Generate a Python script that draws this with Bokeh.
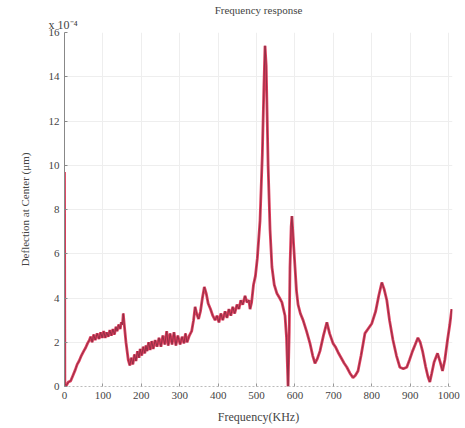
from bokeh.plotting import figure
from bokeh.models import FixedTicker, Range1d, Title
from bokeh.embed import file_html
from bokeh.resources import INLINE

freq = [0, 1, 5, 10, 16, 22, 28, 33, 38, 44,
        50, 55, 60, 65, 68, 72, 76, 80, 85, 90,
        94, 98, 102, 106, 110, 114, 118, 122, 126, 130,
        134, 137, 141, 145, 148, 151, 153, 155, 160, 166,
        170, 174, 178, 182, 186, 190, 194, 197, 201, 205,
        209, 212, 215, 219, 223, 227, 231, 236, 241, 246,
        251, 256, 261, 266, 270, 275, 280, 285, 290, 295,
        301, 306, 311, 315, 319, 325, 331, 336, 340, 344,
        349, 354, 359, 364, 369, 374, 380, 386, 392, 397,
        402, 407, 412, 418, 423, 428, 433, 438, 443, 449,
        454, 459, 464, 470, 475, 480, 483, 487, 492, 497,
        502, 509, 515, 519, 522, 525, 530, 535, 540, 546,
        553, 560, 566, 570, 574, 578, 582, 585, 587, 590,
        592, 595, 600, 604, 608, 614, 621, 630, 639, 646,
        652, 658, 665, 674, 683, 690, 699, 705, 712, 720,
        728, 735, 743, 751, 757, 764, 772, 782, 790, 800,
        810, 818, 826, 832, 839, 846, 855, 864, 873, 882,
        891, 898, 906, 913, 920, 926, 932, 940, 946, 951,
        956, 962, 971, 978, 984, 990, 997, 1003, 1008]

deflection = [9.7, 0.1, 0.05, 0.2, 0.25, 0.5, 0.75, 1.0, 1.15, 1.4,
              1.6, 1.75, 1.95, 2.1, 2.25, 2.0, 2.35, 2.1, 2.4, 2.15,
              2.45, 2.2, 2.5, 2.2, 2.45, 2.25, 2.55, 2.3, 2.6, 2.35,
              2.7, 2.5, 2.8, 2.6, 2.9, 2.8, 3.3, 2.9, 2.0, 1.2,
              0.95, 1.3, 1.0, 1.45, 1.15, 1.6, 1.3, 1.7, 1.4, 1.8,
              1.5, 1.85, 1.6, 2.0, 1.65, 2.05, 1.7, 2.1, 1.8, 2.2,
              1.8, 2.3, 1.9, 2.5, 1.85, 2.4, 1.9, 2.45, 1.85, 2.3,
              1.9, 2.25, 1.95, 2.4, 2.0, 2.3, 2.5, 3.0, 3.6, 3.3,
              3.05, 3.4, 4.0, 4.5, 4.2, 3.75, 3.5, 3.2, 3.0, 3.2,
              2.9, 3.3, 3.0, 3.4, 3.1, 3.5, 3.2, 3.6, 3.3, 3.7,
              3.5, 3.9, 3.7, 4.1, 3.8, 3.9, 3.5, 3.8, 4.6, 5.0,
              5.8, 7.5, 10.5, 13.5, 15.4, 14.5, 10.0, 7.1, 5.4, 4.6,
              4.2, 4.0, 3.8, 3.5, 3.2, 2.2, 0.0, 2.5, 5.4, 7.2,
              7.7, 6.8, 5.4, 4.3, 3.7, 3.3, 3.0, 2.5, 1.95, 1.4,
              1.05, 1.25, 1.6, 2.3, 2.9, 2.4, 1.95, 1.8, 1.55, 1.3,
              1.05, 0.87, 0.6, 0.4, 0.5, 0.7, 1.4, 2.4, 2.6, 2.85,
              3.4, 4.1, 4.7, 4.4, 3.9, 3.0, 2.1, 1.4, 0.87, 0.8,
              0.87, 1.2, 1.6, 1.9, 2.2, 2.0, 1.6, 0.9, 0.45, 0.2,
              0.6, 1.1, 1.5, 1.1, 0.7, 1.2, 2.1, 2.8, 3.5]

x_ticks = [0, 100, 200, 300, 400, 500, 600, 700, 800, 900, 1000]
y_ticks = [0, 2, 4, 6, 8, 10, 12, 14, 16]

FONT = "Liberation Serif"
TXT = "#444444"

p = figure(width=460, height=426, output_backend="svg", toolbar_location=None,
           x_range=Range1d(0, 1010), y_range=Range1d(0, 16),
           min_border_left=64, min_border_right=8, min_border_top=32, min_border_bottom=40)
p.outline_line_color = None
p.background_fill_color = "white"

p.line(freq, deflection, line_color="#dc2a4c", line_width=2.8, line_alpha=0.9)
p.line(freq, deflection, line_color="#8a2e44", line_width=0.9)

p.xaxis.ticker = FixedTicker(ticks=x_ticks)
p.yaxis.ticker = FixedTicker(ticks=y_ticks)
p.xgrid.ticker = FixedTicker(ticks=x_ticks)
p.ygrid.ticker = FixedTicker(ticks=y_ticks)
p.xgrid.grid_line_color = "#eeeeee"
p.ygrid.grid_line_color = "#eeeeee"

for ax in (p.xaxis, p.yaxis):
    ax.major_label_text_font = FONT
    ax.major_label_text_font_size = "11px"
    ax.major_label_text_color = TXT
    ax.major_tick_in = 3
    ax.major_tick_out = 0
    ax.minor_tick_line_color = None
    ax.major_label_standoff = 5
    ax.axis_label_text_font = FONT
    ax.axis_label_text_font_style = "normal"
    ax.axis_label_text_color = TXT

p.yaxis.axis_line_color = "#888888"
p.yaxis.major_tick_line_color = "#888888"
p.yaxis.axis_label = "Deflection at Center (μm)"
p.yaxis.axis_label_text_font_size = "11px"
p.yaxis.axis_label_standoff = 15

p.xaxis.axis_line_color = "#bbbbbb"
p.xaxis.axis_line_dash = "2 2"
p.xaxis.major_tick_line_color = "#999999"
p.xaxis.major_label_standoff = 5
p.xaxis.axis_label = "Frequency(KHz)"
p.xaxis.axis_label_text_font_size = "12px"
p.xaxis.axis_label_standoff = 8

p.title.text = "Frequency response"
p.title.align = "center"
p.title.text_font = FONT
p.title.text_font_size = "11px"
p.title.text_font_style = "normal"
p.title.text_color = TXT
p.title.standoff = 0

p.add_layout(Title(text="x 10⁻⁴", align="left", offset=-16, text_font=FONT,
                   text_font_size="12px", text_font_style="normal",
                   text_color=TXT, standoff=1), "above")

open("out.html", "w").write(file_html(p, INLINE))
